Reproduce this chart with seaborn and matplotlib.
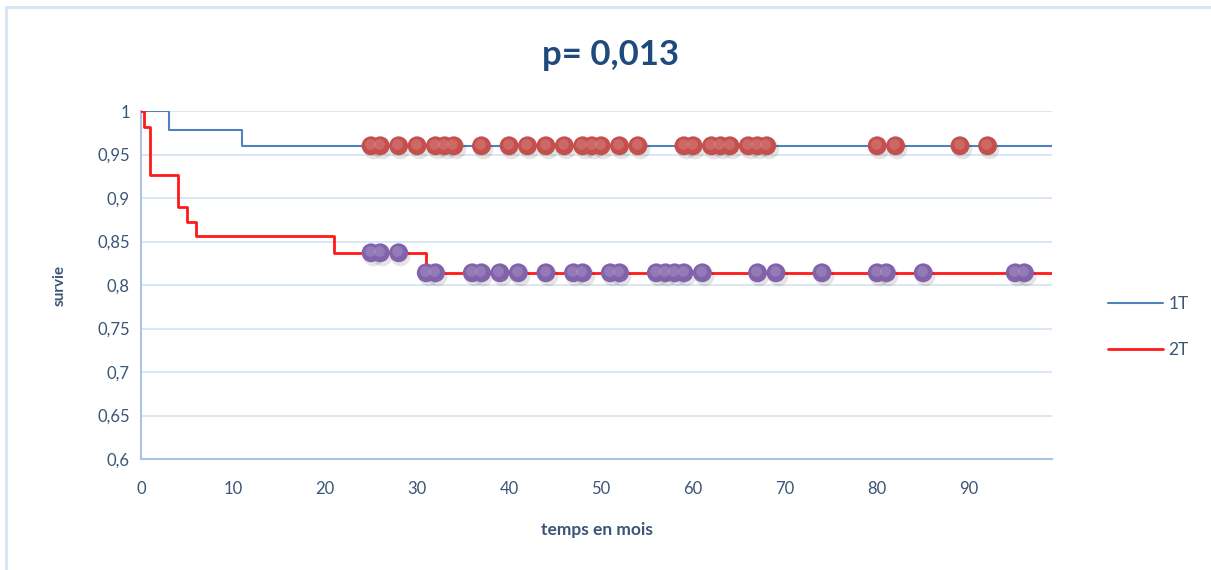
import matplotlib
matplotlib.use("Agg")
import matplotlib.pyplot as plt
import seaborn as sns
import pandas as pd
from matplotlib.lines import Line2D

# ---- data ----
title = "p= 0,013"
series_names = ["1T", "2T"]
# Kaplan-Meier step curves (time in months, survival)
t1_times = [0, 3, 11, 99]
t1_surv = [1.0, 0.978, 0.96, 0.96]
t2_times = [0, 0.3, 1, 4, 5, 6, 21, 31, 99]
t2_surv = [1.0, 0.982, 0.926, 0.890, 0.872, 0.856, 0.837, 0.814, 0.814]
# censored observations
c1_times = [25, 26, 28, 30, 32, 33, 34, 37, 40, 42, 44, 46, 48, 49, 50, 52, 54,
            59, 60, 62, 63, 64, 66, 67, 68, 80, 82, 89, 92]
c1_surv = [0.96] * len(c1_times)
c2a_times = [25, 26, 28]
c2a_surv = [0.837] * len(c2a_times)
c2b_times = [31, 32, 36, 37, 39, 41, 44, 47, 48, 51, 52, 56, 57, 58, 59, 61,
             67, 69, 74, 80, 81, 85, 95, 96]
c2b_surv = [0.814] * len(c2b_times)
x_ticks = [0, 10, 20, 30, 40, 50, 60, 70, 80, 90]
y_ticks = [0.6, 0.65, 0.7, 0.75, 0.8, 0.85, 0.9, 0.95, 1.0]
y_ticklabels = ["0,6", "0,65", "0,7", "0,75", "0,8", "0,85", "0,9", "0,95", "1"]

sns.set_theme(style="white")
plt.rcParams["font.family"] = ["Lato", "DejaVu Sans"]

text_col = "#3b5577"
grid_col = "#d6e3f3"
spine_col = "#a9c4e6"

fig = plt.figure(figsize=(12.11, 5.70), dpi=100)
ax = fig.add_axes([141 / 1211, 1 - 459 / 570, (1052 - 141) / 1211, (459 - 111) / 570])

df1 = pd.DataFrame({"t": t1_times, "s": t1_surv})
df2 = pd.DataFrame({"t": t2_times, "s": t2_surv})
ax.step(df1["t"], df1["s"], where="post", color="#4f81bd", lw=1.5, zorder=3)
ax.step(df2["t"], df2["s"], where="post", color="#ff1a1a", lw=2.0, zorder=3)

cens = pd.concat([
    pd.DataFrame({"t": c1_times, "s": c1_surv, "g": "a"}),
    pd.DataFrame({"t": c2a_times + c2b_times, "s": c2a_surv + c2b_surv, "g": "b"}),
])
# soft shadow
ax.scatter(cens["t"] + 0.2, cens["s"] - 0.004, s=200, color="#000000", alpha=0.10,
           linewidths=0, zorder=4)
sns.scatterplot(data=cens, x="t", y="s", hue="g",
                palette={"a": "#c44f4c", "b": "#8263ab"}, s=185,
                edgecolor="none", linewidth=0, legend=False, ax=ax, zorder=5)
# highlight
ax.scatter(cens["t"] - 0.15, cens["s"] + 0.002, s=60, color="white", alpha=0.15,
           linewidths=0, zorder=6)

ax.set_xlim(0, 99)
ax.set_ylim(0.6, 1.0)
ax.set_xticks(x_ticks)
ax.set_xticklabels([str(v) for v in x_ticks])
ax.set_yticks(y_ticks)
ax.set_yticklabels(y_ticklabels)
ax.tick_params(axis="both", length=0, labelsize=12, labelcolor=text_col)
ax.tick_params(axis="x", pad=16)
ax.tick_params(axis="y", pad=8)
ax.grid(axis="y", color=grid_col, lw=1.2)
ax.grid(axis="x", visible=False)
ax.set_axisbelow(True)
for side in ["top", "right"]:
    ax.spines[side].set_visible(False)
for side in ["left", "bottom"]:
    ax.spines[side].set_color(spine_col)
    ax.spines[side].set_linewidth(1.5)

ax.set_xlabel("temps en mois", fontsize=12.5, fontweight="bold", color=text_col, labelpad=18)
ax.set_ylabel("survie", fontsize=11, fontweight="bold", color=text_col, labelpad=22)

fig.text(611 / 1211, 1 - 55 / 570, title, ha="center", va="center",
         fontsize=25, fontweight="bold", color="#1f4a7c")

handles = [Line2D([0], [0], color="#4f81bd", lw=1.5),
           Line2D([0], [0], color="#ff1a1a", lw=2.0)]
leg = fig.legend(handles, series_names, loc="center left",
                 bbox_to_anchor=(1092 / 1211, 1 - 327 / 570), frameon=False,
                 fontsize=12.5, handlelength=3.2, labelspacing=1.7, handletextpad=0.3)
for txt in leg.get_texts():
    txt.set_color(text_col)

# chart-area border (top and left visible)
fig.add_artist(Line2D([6 / 1211, 1], [1 - 7 / 570, 1 - 7 / 570], color="#d5e3f5", lw=2,
                      transform=fig.transFigure))
fig.add_artist(Line2D([6 / 1211, 6 / 1211], [0, 1 - 7 / 570], color="#d5e3f5", lw=2,
                      transform=fig.transFigure))

fig.savefig("out.png", dpi=100, facecolor="white")
